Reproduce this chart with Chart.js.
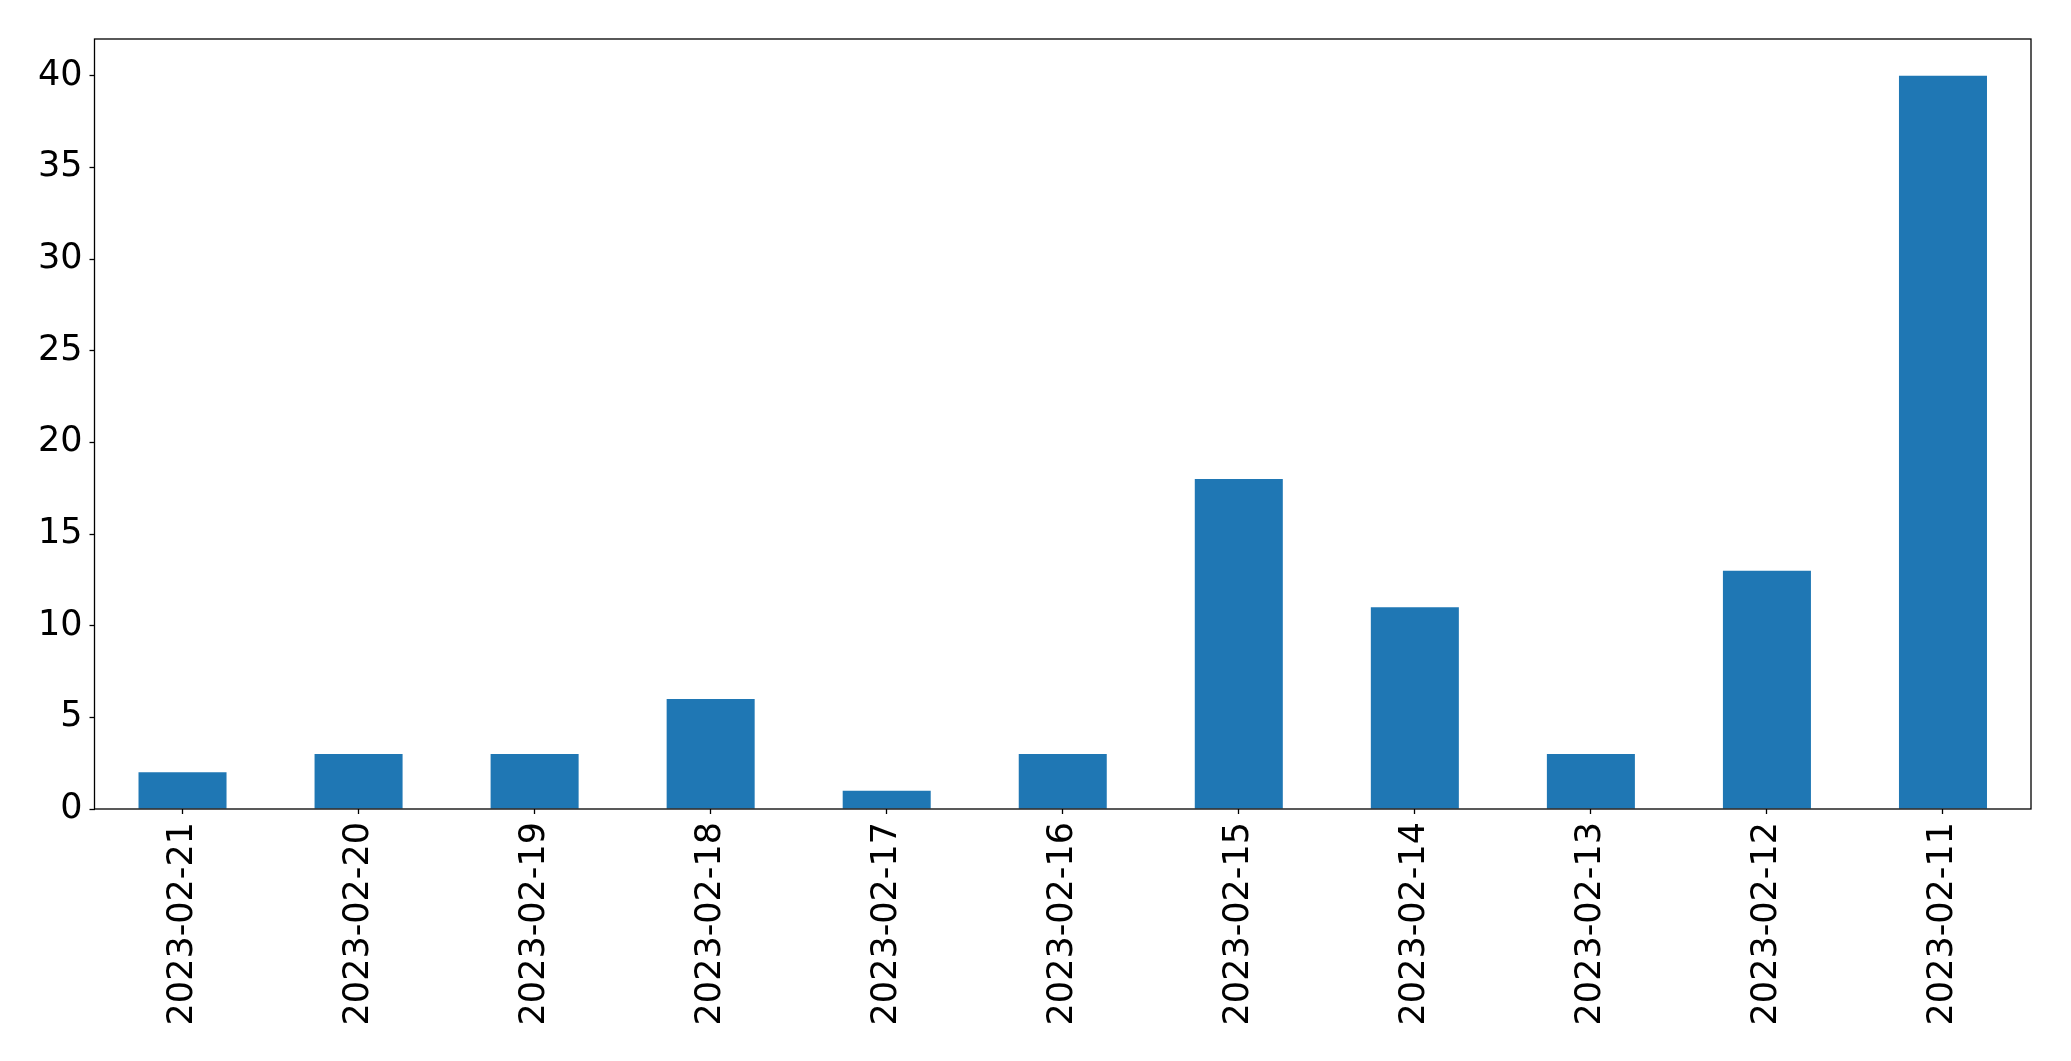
<!DOCTYPE html>
<html>
<head>
<meta charset="utf-8">
<script src="https://cdn.jsdelivr.net/npm/chart.js@4/dist/chart.umd.min.js"></script>
<style>
  body { margin: 0; background: #fff; }
  canvas { display: block; }
</style>
</head>
<body>
<canvas id="dailyChart" width="2071" height="1061"></canvas>
<script>
// data
const dates = ['2023-02-21', '2023-02-20', '2023-02-19', '2023-02-18', '2023-02-17', '2023-02-16',
               '2023-02-15', '2023-02-14', '2023-02-13', '2023-02-12', '2023-02-11'];
const counts = [2, 3, 3, 6, 1, 3, 18, 11, 3, 13, 40];
const yTicks = [0, 5, 10, 15, 20, 25, 30, 35, 40];

// frame round the plot area
const frame = {
    id: 'frame',
    afterDraw(chart) {
        const a = chart.chartArea;
        const ctx = chart.ctx;
        ctx.save();
        ctx.strokeStyle = '#000';
        ctx.lineWidth = 1.3;
        ctx.strokeRect(a.left, a.top, a.right - a.left, a.bottom - a.top);
        ctx.restore();
    }
};

const tickFont = { family: 'DejaVu Sans', size: 35 };

let ctx = document.getElementById('dailyChart').getContext('2d');
new Chart(ctx, {
    type: 'bar',
    data: {
        labels: dates,
        datasets: [{
            data: counts,
            backgroundColor: '#1f77b4',
            borderWidth: 0,
            barPercentage: 0.5,
            categoryPercentage: 1
        }]
    },
    options: {
        responsive: false,
        animation: false,
        layout: { padding: { top: 39, right: 40, left: 0, bottom: 0 } },
        plugins: { legend: { display: false }, tooltip: { enabled: false } },
        scales: {
            x: {
                grid: { display: true, drawOnChartArea: false, offset: false, tickLength: 5, tickColor: '#000', tickWidth: 1.3 },
                border: { display: false },
                ticks: { color: '#000', font: tickFont, minRotation: 90, maxRotation: 90, autoSkip: false, padding: 8 },
                afterFit: function(scale) { scale.height = 252; }
            },
            y: {
                min: 0,
                max: 42,
                grid: { display: true, drawOnChartArea: false, tickLength: 5, tickColor: '#000', tickWidth: 1.3 },
                border: { display: false },
                ticks: { color: '#000', font: tickFont, padding: 7, stepSize: 5, includeBounds: false },
                afterBuildTicks: function(scale) {
                    scale.ticks = yTicks.map(v => ({ value: v }));
                },
                afterFit: function(scale) { scale.width = 94.5; }
            }
        }
    },
    plugins: [frame]
});
</script>
</body>
</html>
